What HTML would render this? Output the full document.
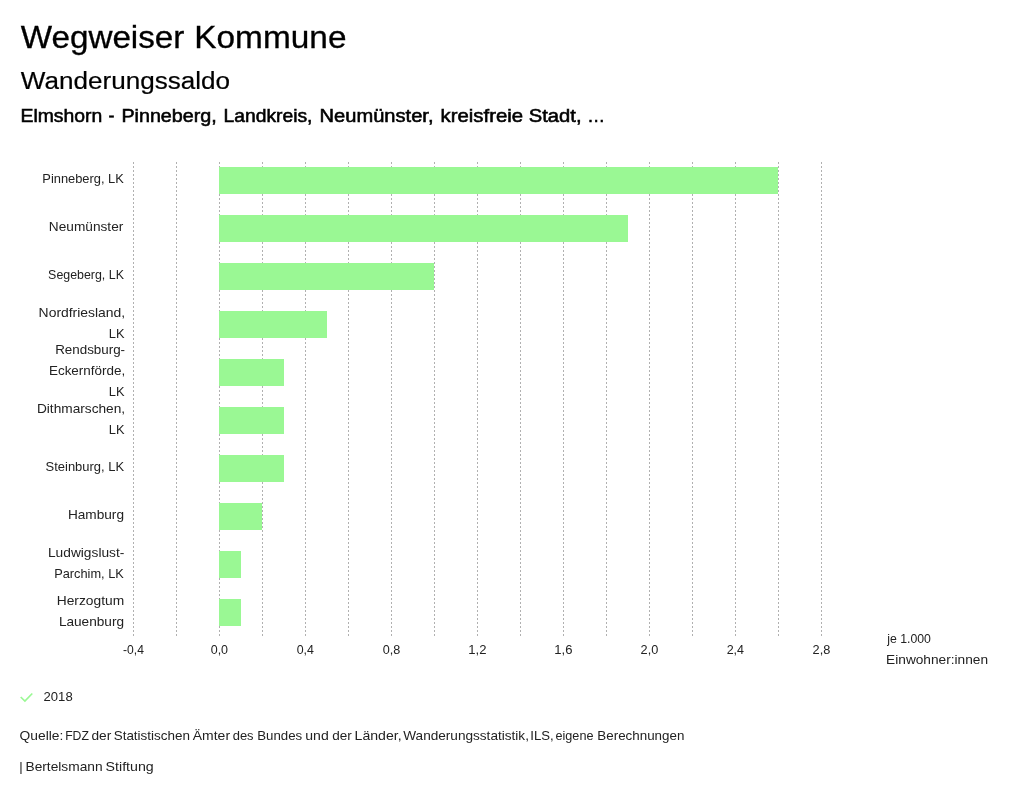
<!DOCTYPE html>
<html lang="de"><head><meta charset="utf-8"><title>Wegweiser Kommune</title>
<style>
html,body{margin:0;padding:0;background:#fff;}
body{width:1024px;height:799px;overflow:hidden;font-family:"Liberation Sans",sans-serif;}
svg{display:block;will-change:transform;}
text{font-family:"Liberation Sans",sans-serif;}
.t{fill:#222222;}
</style></head><body>
<svg width="1024" height="799" viewBox="0 0 1024 799">
<rect x="0" y="0" width="1024" height="799" fill="#ffffff"/>

<g stroke="#b0b0b0" stroke-width="1" stroke-dasharray="2 2" shape-rendering="crispEdges">
<line x1="133.5" y1="162" x2="133.5" y2="636"/>
<line x1="176.5" y1="162" x2="176.5" y2="636"/>
<line x1="219.5" y1="162" x2="219.5" y2="636"/>
<line x1="262.5" y1="162" x2="262.5" y2="636"/>
<line x1="305.5" y1="162" x2="305.5" y2="636"/>
<line x1="348.5" y1="162" x2="348.5" y2="636"/>
<line x1="391.5" y1="162" x2="391.5" y2="636"/>
<line x1="434.5" y1="162" x2="434.5" y2="636"/>
<line x1="477.5" y1="162" x2="477.5" y2="636"/>
<line x1="520.5" y1="162" x2="520.5" y2="636"/>
<line x1="563.5" y1="162" x2="563.5" y2="636"/>
<line x1="606.5" y1="162" x2="606.5" y2="636"/>
<line x1="649.5" y1="162" x2="649.5" y2="636"/>
<line x1="692.5" y1="162" x2="692.5" y2="636"/>
<line x1="735.5" y1="162" x2="735.5" y2="636"/>
<line x1="778.5" y1="162" x2="778.5" y2="636"/>
<line x1="821.5" y1="162" x2="821.5" y2="636"/>
</g>
<g fill="#9AF894" shape-rendering="crispEdges">
<rect x="219" y="167" width="559" height="27"/>
<rect x="219" y="215" width="409" height="27"/>
<rect x="219" y="263" width="215" height="27"/>
<rect x="219" y="311" width="108" height="27"/>
<rect x="219" y="359" width="65" height="27"/>
<rect x="219" y="407" width="65" height="27"/>
<rect x="219" y="455" width="65" height="27"/>
<rect x="219" y="503" width="43" height="27"/>
<rect x="219" y="551" width="22" height="27"/>
<rect x="219" y="599" width="22" height="27"/>
</g>
<polyline points="20.7,697.0 24.9,701.0 32.3,693.5" fill="none" stroke="#9AF894" stroke-width="1.7" stroke-linecap="butt" stroke-linejoin="miter"/>
<text transform="matrix(1.0903 0 0 1 20.64 48)" font-size="30.5" fill="#000" stroke="#000" stroke-width="0.30">Wegweiser</text>
<text transform="matrix(1.0953 0 0 1 194.28 48)" font-size="30.5" fill="#000" stroke="#000" stroke-width="0.30">Kommune</text>
<text transform="matrix(1.0646 0 0 1 20.85 89)" font-size="24.5" fill="#000" stroke="#000" stroke-width="0.20">Wanderungssaldo</text>
<text transform="matrix(1.0883 0 0 1 20.48 122)" font-size="17.8" fill="#000" stroke="#000" stroke-width="0.55">Elmshorn</text>
<text transform="matrix(1.0000 0 0 1 108.61 122)" font-size="17.8" fill="#000" stroke="#000" stroke-width="0.55">-</text>
<text transform="matrix(1.1086 0 0 1 121.39 122)" font-size="17.8" fill="#000" stroke="#000" stroke-width="0.55">Pinneberg,</text>
<text transform="matrix(1.0832 0 0 1 223.51 122)" font-size="17.8" fill="#000" stroke="#000" stroke-width="0.55">Landkreis,</text>
<text transform="matrix(1.1300 0 0 1 319.50 122)" font-size="17.8" fill="#000" stroke="#000" stroke-width="0.55">Neumünster,</text>
<text transform="matrix(1.1441 0 0 1 440.55 122)" font-size="17.8" fill="#000" stroke="#000" stroke-width="0.55">kreisfreie</text>
<text transform="matrix(1.1346 0 0 1 528.79 122)" font-size="17.8" fill="#000" stroke="#000" stroke-width="0.55">Stadt,</text>
<text transform="matrix(1.0000 0 0 1 587.15 122)" font-size="17.8" fill="#000" stroke="#000" stroke-width="0.55">…</text>
<text transform="matrix(1.0387 0 0 1 42.31 183)" font-size="12.4" class="t">Pinneberg, LK</text>
<text transform="matrix(1.1031 0 0 1 48.86 231)" font-size="12.4" class="t">Neumünster</text>
<text transform="matrix(1.0004 0 0 1 48.11 279)" font-size="12.4" class="t">Segeberg, LK</text>
<text transform="matrix(1.1225 0 0 1 38.60 317)" font-size="12.4" class="t">Nordfriesland,</text>
<text transform="matrix(1.0370 0 0 1 108.79 338)" font-size="12.4" class="t">LK</text>
<text transform="matrix(1.0800 0 0 1 55.15 354)" font-size="12.4" class="t">Rendsburg-</text>
<text transform="matrix(1.0842 0 0 1 48.96 375)" font-size="12.4" class="t">Eckernförde,</text>
<text transform="matrix(1.0370 0 0 1 108.79 396)" font-size="12.4" class="t">LK</text>
<text transform="matrix(1.1054 0 0 1 36.92 413)" font-size="12.4" class="t">Dithmarschen,</text>
<text transform="matrix(1.0370 0 0 1 108.79 434)" font-size="12.4" class="t">LK</text>
<text transform="matrix(1.0464 0 0 1 45.54 471)" font-size="12.4" class="t">Steinburg, LK</text>
<text transform="matrix(1.1008 0 0 1 67.95 519)" font-size="12.4" class="t">Hamburg</text>
<text transform="matrix(1.1097 0 0 1 47.97 557)" font-size="12.4" class="t">Ludwigslust-</text>
<text transform="matrix(1.0320 0 0 1 54.23 578)" font-size="12.4" class="t">Parchim, LK</text>
<text transform="matrix(1.1125 0 0 1 56.74 605)" font-size="12.4" class="t">Herzogtum</text>
<text transform="matrix(1.0997 0 0 1 58.88 626)" font-size="12.4" class="t">Lauenburg</text>
<text transform="matrix(0.9763 0 0 1 123.08 654)" font-size="12.4" class="t">-0,4</text>
<text transform="matrix(1.0070 0 0 1 210.69 654)" font-size="12.4" class="t">0,0</text>
<text transform="matrix(0.9975 0 0 1 296.71 654)" font-size="12.4" class="t">0,4</text>
<text transform="matrix(1.0179 0 0 1 382.66 654)" font-size="12.4" class="t">0,8</text>
<text transform="matrix(1.0543 0 0 1 468.30 654)" font-size="12.4" class="t">1,2</text>
<text transform="matrix(1.0543 0 0 1 554.30 654)" font-size="12.4" class="t">1,6</text>
<text transform="matrix(1.0268 0 0 1 640.60 654)" font-size="12.4" class="t">2,0</text>
<text transform="matrix(1.0075 0 0 1 726.63 654)" font-size="12.4" class="t">2,4</text>
<text transform="matrix(1.0283 0 0 1 812.59 654)" font-size="12.4" class="t">2,8</text>
<text transform="matrix(0.9913 0 0 1 887.25 643)" font-size="12.4" class="t">je 1.000</text>
<text transform="matrix(1.1044 0 0 1 886.12 664)" font-size="12.4" class="t">Einwohner:innen</text>
<text transform="matrix(1.0548 0 0 1 43.58 701)" font-size="12.4" class="t">2018</text>
<text transform="matrix(1.0462 0 0 1 19.54 740)" font-size="13.2" class="t">Quelle:</text>
<text transform="matrix(0.9260 0 0 1 65.14 740)" font-size="13.2" class="t">FDZ</text>
<text transform="matrix(1.0375 0 0 1 91.42 740)" font-size="13.2" class="t">der</text>
<text transform="matrix(1.0200 0 0 1 113.66 740)" font-size="13.2" class="t">Statistischen</text>
<text transform="matrix(1.0572 0 0 1 192.82 740)" font-size="13.2" class="t">Ämter</text>
<text transform="matrix(0.9813 0 0 1 232.68 740)" font-size="13.2" class="t">des</text>
<text transform="matrix(1.0054 0 0 1 257.20 740)" font-size="13.2" class="t">Bundes</text>
<text transform="matrix(1.0644 0 0 1 305.27 740)" font-size="13.2" class="t">und</text>
<text transform="matrix(1.0243 0 0 1 332.13 740)" font-size="13.2" class="t">der</text>
<text transform="matrix(1.0671 0 0 1 354.60 740)" font-size="13.2" class="t">Länder,</text>
<text transform="matrix(1.0310 0 0 1 403.24 740)" font-size="13.2" class="t">Wanderungsstatistik,</text>
<text transform="matrix(0.9972 0 0 1 530.28 740)" font-size="13.2" class="t">ILS,</text>
<text transform="matrix(0.9580 0 0 1 555.52 740)" font-size="13.2" class="t">eigene</text>
<text transform="matrix(1.0136 0 0 1 597.36 740)" font-size="13.2" class="t">Berechnungen</text>
<text transform="matrix(1.0000 0 0 1 19.34 771)" font-size="13.2" class="t">|</text>
<text transform="matrix(1.0413 0 0 1 25.47 771)" font-size="13.2" class="t">Bertelsmann</text>
<text transform="matrix(1.0761 0 0 1 105.61 771)" font-size="13.2" class="t">Stiftung</text>
</svg>
</body></html>
